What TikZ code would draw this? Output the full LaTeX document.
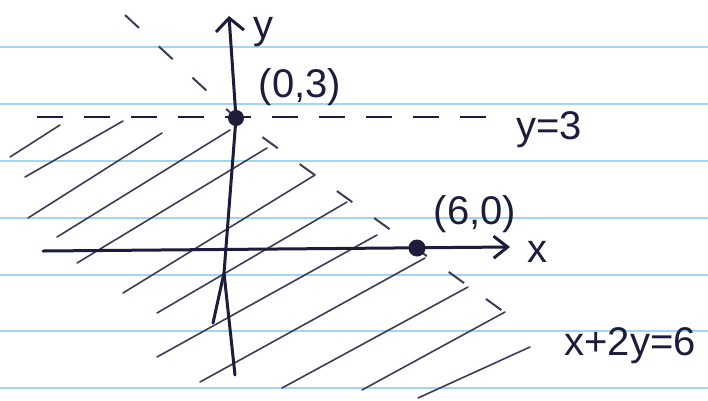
\documentclass[tikz,border=0pt]{standalone}
\usepackage{fontspec}
\setmainfont{Liberation Sans}
\usetikzlibrary{arrows.meta,positioning}
\definecolor{penInk}{HTML}{1C1C3C}
\definecolor{penHatch}{HTML}{3C3C58}
\definecolor{ruleBlue}{HTML}{A3D5F0}

\begin{document}
\begin{tikzpicture}[x=1pt, y=-1pt,
  axis/.style={draw=penInk, line width=3pt, line cap=round},
  hatch/.style={draw=penHatch, line width=1.6pt, line cap=round},
  bound/.style={draw=penInk, line width=2.8pt, dash pattern=on 26pt off 21pt},
  slant/.style={draw=penHatch, line width=2pt, dash pattern=on 19pt off 27pt},
  rule/.style={draw=ruleBlue, line width=1.8pt},
  dot/.style={circle, fill=penInk, inner sep=0pt, minimum size=15pt},
  lbl/.style={text=penInk, font=\fontsize{40}{46}\selectfont, inner sep=0pt}
]
\useasboundingbox (0,0) rectangle (708,400);
\fill[white] (0,0) rectangle (708,400);
\foreach \yy in {47,104,161,218,275,331,388}
  \draw[rule] (0,\yy) -- (708,\yy);
\foreach \ax/\ay/\bx/\by in {10/157/60/125, 25/177/123/121, 28/218/162/133,
    57/237/230/130, 77/263/267/148, 123/293/315/175, 157/313/347/202,
    157/357/377/235, 200/382/425/258, 282/388/468/287, 362/390/505/312,
    418/398/530/347}
  \draw[hatch] (\ax,\ay) -- (\bx,\by);
\node[dot] (p03) at (236,118) {};
\node[dot] (p60) at (417,248) {};
\coordinate (yb) at (235,375);
\coordinate (yk) at (224,273);
\coordinate (yx) at (213,323);
\coordinate (yt) at (229,16);
\coordinate (xl) at (43,251);
\coordinate (xr) at (510,247);
\coordinate (hl) at (37,117);
\coordinate (hr) at (487,117);
\coordinate (bl) at (125,15);
\coordinate (br) at (522,325);
\draw[bound] (hl) -- (hr);
\draw[slant] (bl) -- (p03.center) -- (br);
\draw[axis, -{Straight Barb[length=13pt,width=28pt]}] (yb) -- (yk) -- (p03.center) -- (yt);
\draw[axis] (yk) -- (yx);
\draw[axis, -{Straight Barb[length=14pt,width=22pt]}] (xl) -- (xr);
\node[dot, minimum size=16pt] at (p03) {};
\node[dot, minimum size=17pt] at (p60) {};
\node[lbl] (ylab) at (263,32)  {y};
\node[lbl] (xlab) at (537,252) {x};
\node[lbl] (l03)  at (300,87)  {(0,3)};
\node[lbl] (l60)  at (475,214) {(6,0)};
\node[lbl] (eqh)  at (549,130) {y=3};
\node[lbl] (eqb)  at (630,346) {x+2y=6};
\end{tikzpicture}
\end{document}
